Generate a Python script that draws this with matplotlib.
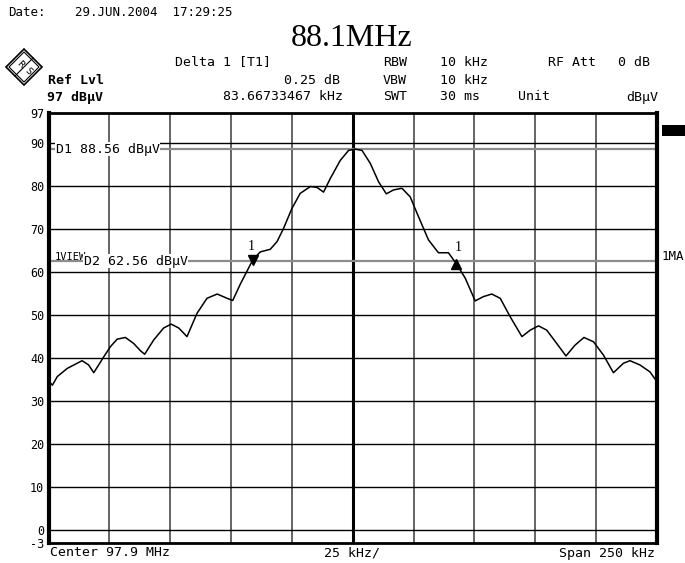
import numpy as np
import matplotlib
matplotlib.use("Agg")
import matplotlib.pyplot as plt
from matplotlib.patches import Polygon, Rectangle

# trace (offset from centre in kHz, level in dBuV)
freq_khz = [-125, -123.4, -121.4, -117.3, -114.6, -111.2, -108.5, -106.4, -102.3, -99.5,
            -96.8, -93.4, -90.0, -87.2, -85.5, -81.8, -77.7, -74.6, -71.5, -68.1,
            -64.0, -59.9, -55.7, -51.6, -49.3, -46.2, -41.1, -38.0, -33.9, -31.1,
            -28.4, -25.0, -21.6, -17.4, -14.7, -12.0, -9.2, -5.1, -1.7, 1.0,
            3.8, 7.2, 10.6, 13.8, 16.7, 20.2, 23.6, 27.0, 31.1, 35.2,
            39.3, 42.5, 46.2, 50.3, 53.7, 57.1, 60.6, 64.7, 69.5, 72.9,
            76.3, 79.7, 83.8, 87.6, 91.3, 95.0, 98.9, 103.0, 107.1, 111.2,
            113.9, 118.0, 122.1, 125]
level = [34.7, 33.7, 35.7, 37.6, 38.4, 39.4, 38.4, 36.6, 40.3, 42.7,
         44.4, 44.8, 43.4, 41.7, 40.9, 44.2, 47.0, 47.9, 47.0, 45.0,
         50.4, 53.9, 54.9, 53.9, 53.4, 57.2, 62.8, 64.7, 65.3, 67.1,
         70.2, 74.8, 78.3, 79.9, 79.7, 78.6, 81.8, 86.0, 88.3, 88.6,
         88.3, 85.3, 81.0, 78.2, 79.1, 79.5, 77.5, 72.9, 67.5, 64.5,
         64.5, 62.0, 58.6, 53.3, 54.3, 54.9, 53.9, 49.6, 45.0, 46.5,
         47.5, 46.5, 43.4, 40.5, 43.0, 44.8, 43.8, 40.7, 36.6, 38.8,
         39.4, 38.4, 36.8, 34.5]

ytick_vals = [-3, 0, 10, 20, 30, 40, 50, 60, 70, 80, 90, 97]
ytick_labels = ["-3", "0", "10", "20", "30", "40", "50", "60", "70", "80", "90", "97"]
d1_level = 88.56
d2_level = 62.56
marker_left = (-41.1, 62.8)
marker_right = (42.5, 62.0)

W, H = 685, 563
mono = "DejaVu Sans Mono"
fig = plt.figure(figsize=(W / 100, H / 100), dpi=100)

def fx(px):
    return px / W

def fy(py):
    return 1 - py / H

ax = fig.add_axes([fx(48.5), fy(543), (657 - 48.5) / W, (543 - 113) / H])
ax.set_xlim(-125, 125)
ax.set_ylim(-3, 97)

# grid
for x in np.arange(-100, 101, 25):
    lw = 2.2 if x == 0 else 1.1
    col = "black" if x == 0 else "#3a3a3a"
    ax.axvline(x, color=col, lw=lw, zorder=1)
for y in range(0, 91, 10):
    ax.axhline(y, color="black", lw=1.0, zorder=1)

# display lines
ax.axhline(d1_level, color="#8c8c8c", lw=1.6, zorder=2)
ax.axhline(d2_level, color="#8c8c8c", lw=1.6, zorder=2)

ax.plot(freq_khz, level, color="black", lw=1.1, zorder=4)

ax.plot(*marker_left, marker="v", color="black", ms=6.5, zorder=5)
ax.plot(*marker_right, marker="^", color="black", ms=6.5, zorder=5)
ax.text(marker_left[0] - 0.5, marker_left[1] + 1.6, "1", family="Liberation Serif",
        fontsize=10, ha="center", va="bottom", zorder=5)
ax.text(marker_right[0] + 0.8, marker_right[1] + 2.3, "1", family="Liberation Serif",
        fontsize=10, ha="center", va="bottom", zorder=5)

ax.text(-122, d1_level, "D1 88.56 dB\u03bcV", family=mono, fontsize=9.5, va="center",
        bbox=dict(facecolor="white", edgecolor="none", pad=0.5), zorder=3)
ax.text(-122.5, d2_level + 1.0, "1VIEW", family=mono, fontsize=7.5, va="center", zorder=3)
ax.text(-110.5, d2_level, "D2 62.56 dB\u03bcV", family=mono, fontsize=9.5, va="center",
        bbox=dict(facecolor="white", edgecolor="none", pad=0.3), zorder=3)

ax.set_xticks([])
ax.set_yticks(ytick_vals)
ax.set_yticklabels(ytick_labels, family=mono, fontsize=8.5)
ax.tick_params(axis="y", length=0, pad=3)
ax.spines["left"].set_linewidth(3)
ax.spines["right"].set_linewidth(3)
ax.spines["top"].set_linewidth(2)
ax.spines["bottom"].set_linewidth(2)

# header texts
def t(px, py, s, ha="left", **kw):
    kw.setdefault("family", mono)
    kw.setdefault("fontsize", 9.5)
    fig.text(fx(px), fy(py), s, ha=ha, va="center", **kw)

t(8, 12, "Date:", fontsize=9)
t(75, 12, "29.JUN.2004  17:29:25", fontsize=9)
t(352, 38, "88.1MHz", ha="center", family="Liberation Serif", fontsize=23)

t(175, 62, "Delta 1 [T1]")
t(383, 62, "RBW")
t(440, 62, "10 kHz")
t(548, 62, "RF Att")
t(650, 62, "0 dB", ha="right")

t(48, 80, "Ref Lvl", fontweight="bold")
t(340, 80, "0.25 dB", ha="right")
t(383, 80, "VBW")
t(440, 80, "10 kHz")

t(47, 97, "97 dB\u03bcV", fontweight="bold")
t(343, 97, "83.66733467 kHz", ha="right")
t(383, 97, "SWT")
t(440, 97, "30 ms")
t(518, 97, "Unit")
t(658, 97, "dB\u03bcV", ha="right")

t(50, 553, "Center 97.9 MHz")
t(352, 553, "25 kHz/", ha="center")
t(655, 553, "Span 250 kHz", ha="right")

t(662, 257, "1MA", fontsize=9)
fig.patches.append(Rectangle((fx(662), fy(136)), 23 / W, 11 / H, transform=fig.transFigure,
                             facecolor="black", edgecolor="none"))

# R&S logo (diamond)
cx, cy, r = 24, 67, 18
for rr, lw in ((r, 1.2), (r - 3, 0.8)):
    diamond = [(fx(cx), fy(cy - rr)), (fx(cx + rr), fy(cy)), (fx(cx), fy(cy + rr)), (fx(cx - rr), fy(cy))]
    fig.patches.append(Polygon(diamond, closed=True, transform=fig.transFigure,
                               facecolor="white" if rr == r else "none", edgecolor="black", lw=lw))
fig.lines.append(plt.Line2D([fx(cx + r / 2), fx(cx - r / 2)], [fy(cy - r / 2), fy(cy + r / 2)],
                            transform=fig.transFigure, color="black", lw=0.8))
t(cx - 4, cy - 3, "R", ha="center", fontsize=6.5, family="DejaVu Sans", rotation=-45)
t(cx + 4, cy + 4, "S", ha="center", fontsize=6.5, family="DejaVu Sans", rotation=-45)

fig.savefig("out.png", dpi=100)
